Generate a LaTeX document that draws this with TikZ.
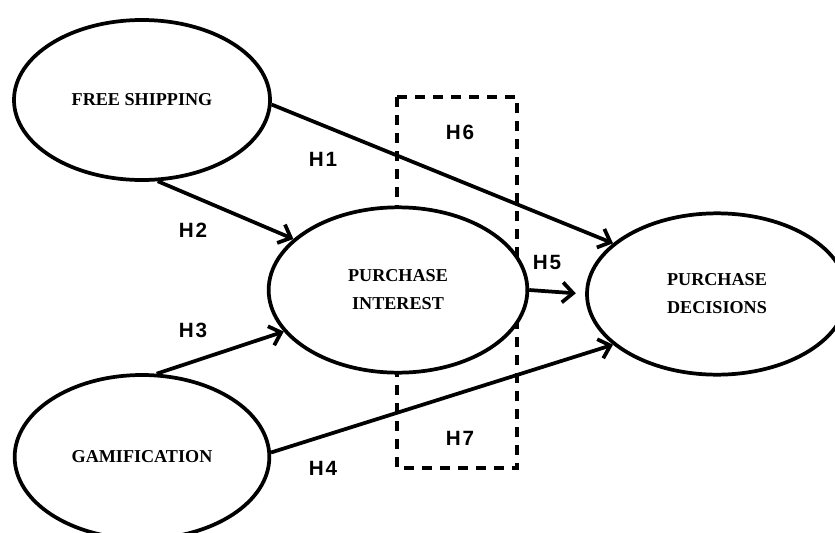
\documentclass[tikz,border=0pt]{standalone}
\usepackage{fontspec}
\setmainfont{Liberation Serif}
\newfontfamily\labelfont{Liberation Sans}
\usetikzlibrary{shapes.geometric, arrows.meta}
\tikzset{
    construct/.style={ellipse, draw, fill=white, line width=2.8pt, inner sep=0pt, align=center,
        font=\fontsize{13.6}{21}\selectfont\bfseries},
    path/.style={line width=2.8pt, -{Straight Barb[length=8pt, width=15pt, line width=2.8pt]}},
    hyp/.style={font=\labelfont\fontsize{15.5}{18}\selectfont\bfseries}
}

\begin{document}
\begin{tikzpicture}[x=0.75pt, y=-0.75pt]
    % Canvas
    \useasboundingbox (0,0) rectangle (835,532);

    % Mediation box
    \draw[line width=3pt, dash pattern=on 7.5pt off 6pt] (397,97) rectangle (517,468);

    % Constructs
    \node[construct, minimum width=192pt, minimum height=120pt] (ship) at (142,100) {FREE SHIPPING};
    \node[construct, minimum width=191pt, minimum height=123pt] (gami) at (142,457) {GAMIFICATION};
    \node[construct, minimum width=194pt, minimum height=124pt] (inte) at (398,290) {PURCHASE\\INTEREST};
    \node[construct, minimum width=195pt, minimum height=121pt] (deci) at (717,294) {PURCHASE\\DECISIONS};

    % Paths
    \draw[path] (ship.-2) -- (deci.154);
    \draw[path] (ship.-79) -- (inte.154);
    \draw[path] (gami.80) -- (inte.200);
    \draw[path] (gami.2) -- (deci.206);
    \draw[path, shorten >=7pt] (inte.east) -- (deci.west);

    % Hypothesis labels
    \node[hyp] (h1) at (323,159) {H\kern1.5pt1};
    \node[hyp] (h2) at (193,230) {H\kern1.5pt2};
    \node[hyp] (h3) at (193,330) {H\kern1.5pt3};
    \node[hyp] (h4) at (323,468) {H\kern1.5pt4};
    \node[hyp] (h5) at (547,262) {H\kern1.5pt5};
    \node[hyp] (h6) at (460,132) {H\kern1.5pt6};
    \node[hyp] (h7) at (460,438) {H\kern1.5pt7};
\end{tikzpicture}
\end{document}
